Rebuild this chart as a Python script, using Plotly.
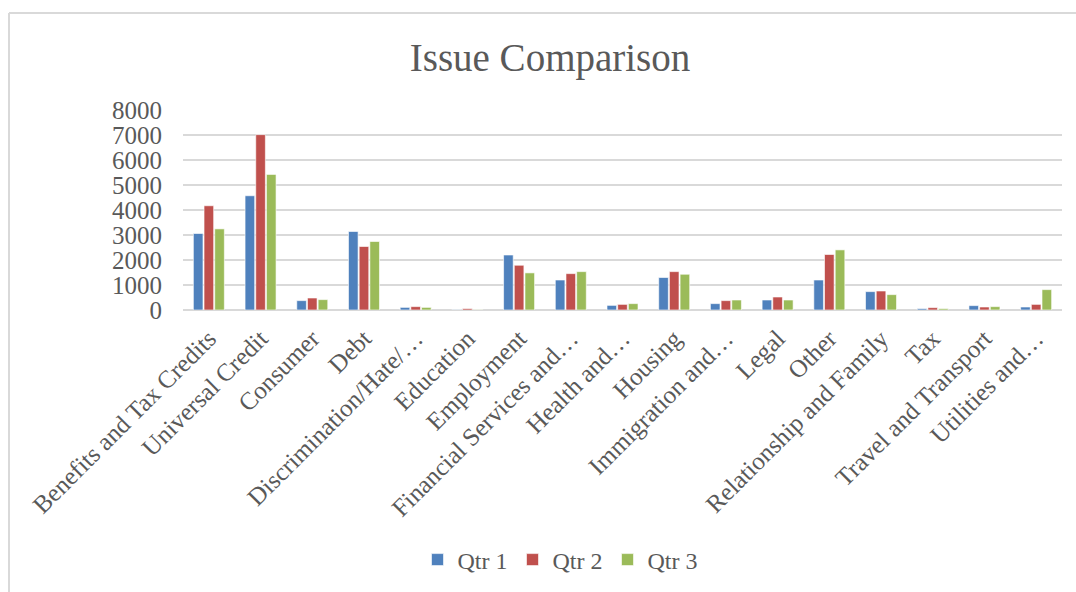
import plotly.graph_objects as go

# Issue categories (labels as shown on the axis)
categories = [
    "Benefits and Tax Credits", "Universal Credit", "Consumer", "Debt",
    "Discrimination/Hate/…", "Education", "Employment", "Financial Services and…",
    "Health and…", "Housing", "Immigration and…", "Legal", "Other",
    "Relationship and Family", "Tax", "Travel and Transport", "Utilities and…",
]

qtr1 = [3060, 4570, 375, 3140, 105, 10, 2200, 1200, 185, 1300, 255, 400, 1200, 735, 55, 175, 120]
qtr2 = [4170, 7015, 480, 2540, 135, 55, 1790, 1455, 225, 1535, 375, 520, 2220, 760, 95, 120, 225]
qtr3 = [3245, 5425, 415, 2740, 105, 10, 1485, 1535, 255, 1430, 400, 400, 2405, 615, 55, 135, 815]

series_names = ["Qtr 1", "Qtr 2", "Qtr 3"]
series_colors = ["#4F81BD", "#C0504D", "#9BBB59"]

y_ticks = [0, 1000, 2000, 3000, 4000, 5000, 6000, 7000, 8000]

FONT = "Liberation Serif"
TEXT = "#595959"

W, H = 1076, 592
ML, MR, MT, MB = 183, 14, 110, 282

fig = go.Figure()
for name, vals, col in zip(series_names, [qtr1, qtr2, qtr3], series_colors):
    fig.add_trace(go.Bar(
        name=name, x=categories, y=vals,
        marker=dict(color=col, line=dict(color="rgba(255,255,255,0.6)", width=1)),
    ))

# outer chart frame (left and top edges visible)
pw = W - ML - MR
ph = H - MT - MB
x_left = (9 - ML) / pw
y_top = (H - MB - 13) / ph
frame = dict(color="#D9D9D9", width=2)

fig.update_layout(
    width=W, height=H,
    margin=dict(l=ML, r=MR, t=MT, b=MB),
    paper_bgcolor="white", plot_bgcolor="white",
    barmode="group", bargap=0.38, bargroupgap=0.1,
    font=dict(family=FONT, color=TEXT, size=24),
    title=dict(text="Issue Comparison", x=550 / W, xref="container", xanchor="center",
               y=1 - 57 / H, yanchor="middle",
               font=dict(family=FONT, size=39, color=TEXT)),
    xaxis=dict(tickangle=-45, tickfont=dict(size=25, color=TEXT),
               showgrid=False, showline=False, ticks="", ticklen=0,
               ticklabelstandoff=8),
    yaxis=dict(range=[0, 8000], tickvals=y_ticks, tickfont=dict(size=25, color=TEXT),
               showgrid=True, gridcolor="#D9D9D9", gridwidth=2,
               zeroline=True, zerolinecolor="#D9D9D9", zerolinewidth=2,
               showline=False, ticks="", ticklabelstandoff=20),
    legend=dict(orientation="h", x=560 / W, xanchor="center", xref="container",
                y=1 - 560 / H, yref="container", yanchor="middle",
                font=dict(size=24, color=TEXT), itemwidth=30, traceorder="normal"),
    shapes=[
        dict(type="line", xref="paper", yref="paper", x0=x_left, x1=x_left, y0=y_top, y1=-5, line=frame),
        dict(type="line", xref="paper", yref="paper", x0=x_left, x1=2, y0=y_top, y1=y_top, line=frame),
    ],
)

fig.write_html("out.html")
